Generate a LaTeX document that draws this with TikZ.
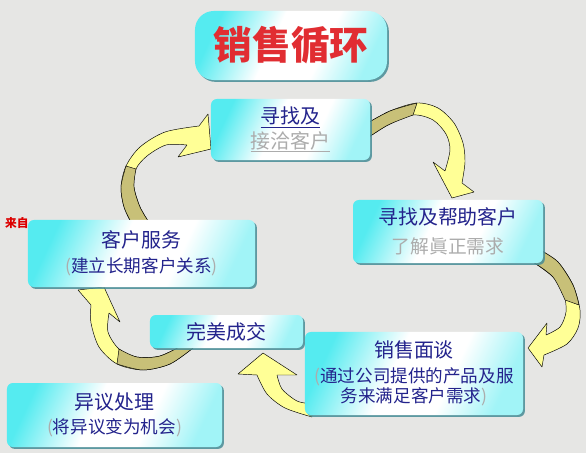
\documentclass[tikz,border=0pt]{standalone}
\usepackage{fontspec}
\newfontfamily\cjk{Noto Sans CJK SC}
\usetikzlibrary{shadows}
\definecolor{paper}{RGB}{230,230,228}
\definecolor{glowcyan}{RGB}{85,235,240}
\definecolor{rimteal}{RGB}{70,140,150}
\definecolor{inkblue}{RGB}{35,35,140}
\definecolor{fadegray}{RGB}{172,172,172}
\definecolor{titlered}{RGB}{225,45,50}
\definecolor{bandyellow}{RGB}{255,255,150}
\definecolor{bandolive}{RGB}{200,192,120}
\definecolor{markred}{RGB}{220,0,0}
\pgfdeclarehorizontalshading{cyanglow}{100bp}{color(0bp)=(glowcyan); color(25bp)=(glowcyan); color(44bp)=(white); color(60bp)=(white); color(75bp)=(glowcyan!55!white); color(100bp)=(glowcyan!55!white)}
\begin{document}
\begin{tikzpicture}[x=0.03cm,y=-0.03cm,
  stage node/.style={rectangle,rounded corners=5pt,shading=cyanglow,shading angle=-25,
    drop shadow={shadow xshift=1.6pt,shadow yshift=-1.6pt,fill=rimteal,opacity=0.85},
    align=center,inner sep=0pt,text=inkblue},
  title node/.style={stage node,rounded corners=16pt,text=titlered,
    font=\cjk\bfseries\fontsize{33}{36}\selectfont},
  band/.style={fill=bandyellow,draw=black,line width=0.4pt,line join=round},
  band back/.style={fill=bandolive,draw=black,line width=0.4pt,line join=round}]
  \fill[paper] (0,0) rectangle (586,453);
  \useasboundingbox (0,0) rectangle (586,453);
  \node[anchor=west,text=markred,font=\cjk\bfseries\fontsize{10}{12}\selectfont] (mark) at (1,223) {来自};
  % curved arrows, behind the boxes
  \filldraw[band] plot[smooth] coordinates {(132,224) (124,207) (121,187) (126,166) (140,147) (165,132) (199,126)}
    -- (208,114) -- (211,149) -- (178,157)
    -- plot[smooth] coordinates {(187,145) (166,145) (147,156) (136,169) (134,187) (140,207) (150,224)} -- cycle;
  \filldraw[band back] plot[smooth] coordinates {(132,224) (124,207) (121,187) (126,166)}
    -- plot[smooth] coordinates {(136,169) (134,187) (140,207) (150,224)} -- cycle;
  \filldraw[band] plot[smooth] coordinates {(366,124) (390,111) (417,103) (438,108) (454,123) (463,143) (465,162) (462,183)}
    -- (474,192) -- (452,198) -- (433,162)
    -- plot[smooth] coordinates {(445,171) (450,150) (446,134) (433,120) (413,115) (388,125) (366,139)} -- cycle;
  \filldraw[band back] plot[smooth] coordinates {(366,124) (390,111) (417,103)}
    -- plot[smooth] coordinates {(413,115) (388,125) (366,139)} -- cycle;
  \filldraw[band] plot[smooth] coordinates {(540,250) (558,262) (573,285) (580,310) (578,328) (567,344) (544,355)}
    -- (542,367) -- (528,348) -- (547,323)
    -- plot[smooth] coordinates {(546,335) (560,327) (566,312) (564,295) (553,277) (533,262)} -- cycle;
  \filldraw[band back] plot[smooth] coordinates {(540,250) (558,262) (573,285) (579,305)}
    -- plot[smooth] coordinates {(565,300) (553,277) (533,262)} -- cycle;
  \filldraw[band] plot[smooth] coordinates {(312,417) (285,408) (267,394) (257,375)}
    -- (238,374) -- (263,353) -- (297,375)
    -- plot[smooth] coordinates {(277,375) (282,389) (297,401) (312,404)} -- cycle;
  \filldraw[band] plot[smooth] coordinates {(193,348) (170,364) (143,370) (117,364) (99,347) (91,323) (91,305)}
    -- (78,290) -- (104,287) -- (120,322)
    -- plot[smooth] coordinates {(109,313) (108,332) (119,349) (137,357) (160,356) (185,344)} -- cycle;
  \filldraw[band back] plot[smooth] coordinates {(193,348) (170,364) (143,370) (117,364)}
    -- plot[smooth] coordinates {(119,349) (137,357) (160,356) (185,344)} -- cycle;
  % boxes
  \node[title node,minimum width=5.76cm,minimum height=2.07cm] (0) at (291,45.5) {销售循环};
  \node[stage node,minimum width=4.77cm,minimum height=1.83cm,font=\cjk\fontsize{17}{21}\selectfont] (1) at (290.5,129.5)
    {\underline{寻找及}\\\textcolor{fadegray}{\underline{接洽客户}}};
  \node[stage node,minimum width=5.7cm,minimum height=1.89cm,font=\cjk\fontsize{17}{25}\selectfont] (2) at (448,231.5)
    {寻找及帮助客户\\\textcolor{fadegray}{\fontsize{16}{25}\selectfont 了解眞正需求}};
  \node[stage node,minimum width=6.54cm,minimum height=2.49cm,font=\cjk\fontsize{15}{17}\selectfont] (3) at (414,373.5)
    {{\fontsize{17}{17}\selectfont 销售面谈}\\[4pt]\textcolor{fadegray}{(}通过公司提供的产品及服\\务来满足客户需求\textcolor{fadegray}{)}};
  \node[stage node,minimum width=4.59cm,minimum height=0.99cm,font=\cjk\fontsize{17}{21}\selectfont] (4) at (226.5,331.5) {完美成交};
  \node[stage node,minimum width=6.81cm,minimum height=2.01cm,font=\cjk\fontsize{15}{21}\selectfont] (5) at (141.5,253.5)
    {{\fontsize{17}{21}\selectfont 客户服务}\\\textcolor{fadegray}{(}建立长期客户关系\textcolor{fadegray}{)}};
  \node[stage node,minimum width=6.45cm,minimum height=1.92cm,font=\cjk\fontsize{15}{20}\selectfont] (6) at (114.5,415)
    {{\fontsize{17}{20}\selectfont 异议处理}\\\textcolor{fadegray}{(}将异议变为机会\textcolor{fadegray}{)}};
\end{tikzpicture}
\end{document}
